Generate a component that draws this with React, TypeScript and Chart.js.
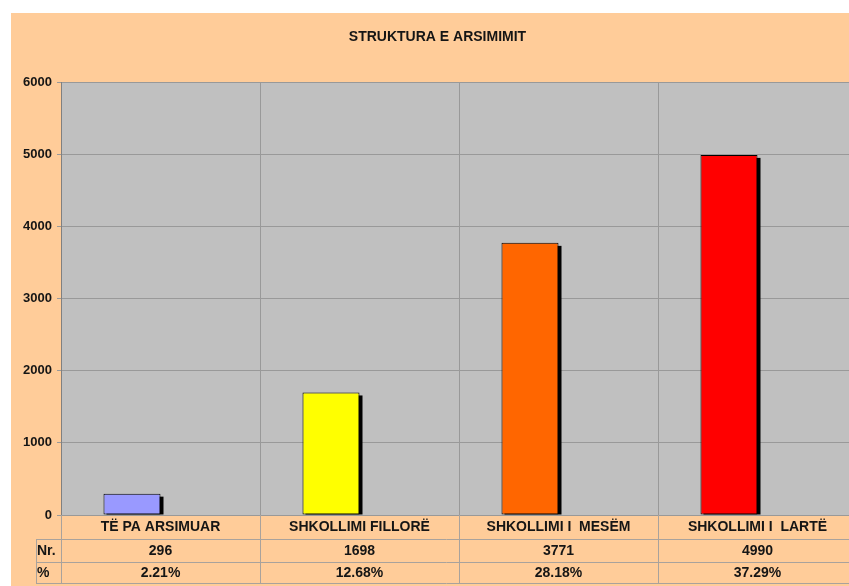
import { useEffect, useRef } from "react";
import { Chart, registerables } from "chart.js";

Chart.register(...registerables);

const chartTitle = "STRUKTURA E ARSIMIMIT";
const categories = ["TË PA ARSIMUAR", "SHKOLLIMI FILLORË", "SHKOLLIMI I  MESËM", "SHKOLLIMI I  LARTË"];
const counts = [296, 1698, 3771, 4990];
const percents = [2.21, 12.68, 28.18, 37.29];
const barColors = ["#9999FF", "#FFFF00", "#FF6600", "#FF0000"];
const rowLabels = ["Nr.", "%"];
const yMin = 0;
const yMax = 6000;
const yStep = 1000;

const FONT = "Arial, 'Liberation Sans', sans-serif";
const TEXT = "#151515";
const TABLE_LINE = "#a9a29c";

const bgPlugin = {
  id: "bgPlugin",
  beforeDraw(chart: any) {
    const { ctx, chartArea: a, width, height } = chart;
    ctx.save();
    ctx.fillStyle = "#ffffff";
    ctx.fillRect(0, 0, width, height);
    ctx.fillStyle = "#FFCC99";
    ctx.fillRect(11, 13, width - 11, height - 13);
    ctx.fillStyle = "#C0C0C0";
    ctx.fillRect(a.left, a.top, a.right - a.left, a.bottom - a.top);
    ctx.restore();
  },
};

const shadowPlugin = {
  id: "shadowPlugin",
  beforeDatasetDraw(chart: any, args: any) {
    if (args.index !== 0) return;
    const { ctx } = chart;
    ctx.save();
    ctx.fillStyle = "#000000";
    for (const el of args.meta.data) {
      const p = el.getProps(["x", "y", "base", "width"], true);
      if (p.y == null || isNaN(p.y)) continue;
      ctx.fillRect(p.x - p.width / 2 + 3, p.y + 3, p.width, p.base - p.y - 3);
    }
    ctx.restore();
  },
};

const tablePlugin = {
  id: "tablePlugin",
  afterDraw(chart: any) {
    const { ctx, chartArea: a } = chart;
    const xs = chart.scales.x;
    const n = categories.length;
    const w = (a.right - a.left) / n;
    const r1 = a.bottom + 24;
    const r2 = a.bottom + 47;
    const r3 = a.bottom + 68;
    const tableLeft = 36;
    ctx.save();
    ctx.strokeStyle = TABLE_LINE;
    ctx.lineWidth = 1;
    ctx.beginPath();
    for (let i = 0; i <= n; i++) {
      const bx = Math.round(a.left + i * w) + 0.5;
      ctx.moveTo(bx, a.bottom);
      ctx.lineTo(bx, r3);
    }
    for (const ry of [r1, r2, r3]) {
      ctx.moveTo(tableLeft, Math.round(ry) + 0.5);
      ctx.lineTo(a.right, Math.round(ry) + 0.5);
    }
    ctx.moveTo(tableLeft + 0.5, r1);
    ctx.lineTo(tableLeft + 0.5, r3);
    ctx.stroke();

    ctx.fillStyle = TEXT;
    ctx.font = `bold 14px ${FONT}`;
    ctx.textBaseline = "middle";
    ctx.textAlign = "left";
    ctx.fillText(rowLabels[0], tableLeft + 1, (r1 + r2) / 2 + 0.5);
    ctx.fillText(rowLabels[1], tableLeft + 1, (r2 + r3) / 2 + 1);
    ctx.textAlign = "center";
    for (let i = 0; i < n; i++) {
      const cx = xs.getPixelForValue(i);
      ctx.fillText(String(counts[i]), cx, (r1 + r2) / 2 + 0.5);
      ctx.fillText(percents[i].toFixed(2) + "%", cx, (r2 + r3) / 2 + 1);
    }
    ctx.restore();
  },
};

export default function App() {
  const ref = useRef<HTMLCanvasElement | null>(null);

  useEffect(() => {
    if (!ref.current) return;
    const chart = new Chart(ref.current, {
      type: "bar",
      data: {
        labels: categories,
        datasets: [
          {
            label: "Nr.",
            data: counts,
            backgroundColor: barColors,
            borderColor: "#000000",
            borderWidth: 1,
            borderSkipped: false,
            barPercentage: 1,
            categoryPercentage: 0.573,
          },
          {
            label: "%",
            data: categories.map(() => null),
            backgroundColor: "transparent",
            barPercentage: 1,
            categoryPercentage: 0.573,
          },
        ],
      },
      options: {
        responsive: false,
        animation: false,
        devicePixelRatio: 1,
        layout: { padding: { left: 18, right: 3, top: 0, bottom: 0 } },
        plugins: {
          legend: { display: false },
          tooltip: { enabled: false },
          title: {
            display: true,
            text: chartTitle,
            color: TEXT,
            font: { family: FONT, size: 14, weight: "bold", lineHeight: 1.2 },
            padding: { top: 29, bottom: 36.2 },
          },
        },
        scales: {
          x: {
            grid: { color: "#999999", offset: true, drawTicks: false, lineWidth: 1 },
            border: { color: "#999999" },
            ticks: {
              color: TEXT,
              font: { family: FONT, size: 14, weight: "bold" },
              padding: 4,
              maxRotation: 0,
              autoSkip: false,
            },
            afterFit(s: any) {
              s.height = 71;
            },
          },
          y: {
            min: yMin,
            max: yMax,
            grid: { color: "#999999", tickLength: 4, lineWidth: 1 },
            border: { color: "#808080", width: 1 },
            ticks: {
              stepSize: yStep,
              color: TEXT,
              font: { family: FONT, size: 13, weight: "bold" },
              padding: 5,
              callback: (v: any) => String(v),
            },
            afterFit(s: any) {
              s.width = 43;
            },
          },
        },
      },
      plugins: [bgPlugin, shadowPlugin, tablePlugin],
    });
    return () => chart.destroy();
  }, []);

  return (
    <div
      style={{
        position: "fixed",
        left: 0,
        top: 0,
        width: 849,
        height: 586,
        overflow: "hidden",
        background: "#ffffff",
      }}
    >
      <canvas ref={ref} width={860} height={586} style={{ display: "block" }} />
    </div>
  );
}
